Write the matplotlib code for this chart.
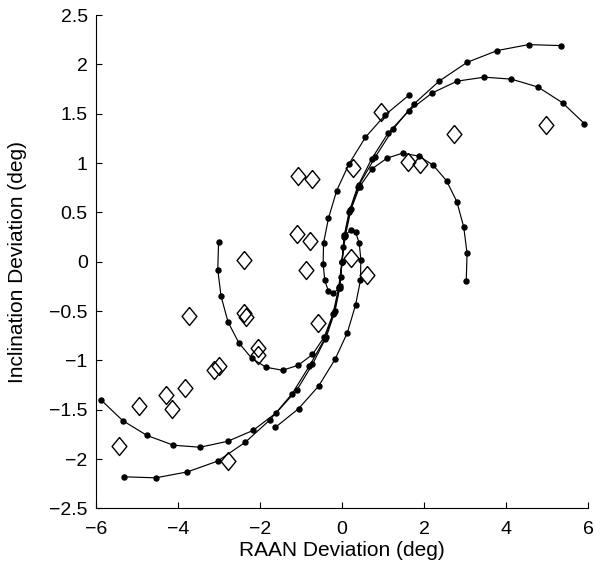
import matplotlib
matplotlib.use("Agg")
import matplotlib.pyplot as plt

plt.rcParams['font.family'] = ['Liberation Sans', 'DejaVu Sans']

# Curve 1 (outermost, ends near (5.3, 2.2))
x1 = [-5.31, -4.54, -3.77, -3.03, -2.36, -1.75, -1.22, -0.80, -0.42, -0.20, -0.06, 0.0,
      0.06, 0.20, 0.42, 0.81, 1.24, 1.76, 2.37, 3.05, 3.79, 4.55, 5.33]
y1 = [-2.18, -2.19, -2.13, -2.02, -1.83, -1.60, -1.34, -1.06, -0.78, -0.52, -0.27, 0.0,
      0.27, 0.52, 0.78, 1.06, 1.34, 1.60, 1.83, 2.02, 2.14, 2.20, 2.19]

# Curve 2 (ends near (5.9, 1.4))
x2 = [-5.88, -5.35, -4.76, -4.11, -3.46, -2.79, -2.17, -1.60, -1.10, -0.72, -0.38, -0.17, -0.05, 0.0,
      0.05, 0.17, 0.38, 0.72, 1.12, 1.63, 2.20, 2.81, 3.47, 4.13, 4.78, 5.38, 5.91]
y2 = [-1.40, -1.61, -1.76, -1.86, -1.88, -1.82, -1.71, -1.53, -1.30, -1.04, -0.76, -0.50, -0.25, 0.0,
      0.25, 0.50, 0.76, 1.04, 1.30, 1.53, 1.71, 1.83, 1.87, 1.85, 1.77, 1.61, 1.40]

# Curve 3 (inner S, ends near (±3, ∓0.2))
x3 = [-3.01, -3.03, -2.95, -2.78, -2.52, -2.20, -1.85, -1.45, -1.07, -0.72, -0.43, -0.22, -0.08, 0.0,
      0.08, 0.22, 0.43, 0.73, 1.10, 1.48, 1.87, 2.22, 2.55, 2.80, 2.97, 3.05, 3.03]
y3 = [0.20, -0.08, -0.35, -0.61, -0.82, -0.98, -1.07, -1.10, -1.05, -0.94, -0.76, -0.53, -0.26, 0.0,
      0.26, 0.53, 0.76, 0.94, 1.05, 1.10, 1.07, 0.98, 0.82, 0.61, 0.35, 0.085, -0.20]

# Curve 4 (short, with small central loop)
x4 = [-1.63, -1.06, -0.57, -0.17, 0.13, 0.33, 0.45, 0.46, 0.42, 0.33, 0.21, 0.08, 0.03, 0.0,
      -0.03, -0.08, -0.21, -0.33, -0.42, -0.46, -0.45, -0.33, -0.13, 0.17, 0.57, 1.06, 1.64]
y4 = [-1.68, -1.49, -1.26, -0.99, -0.72, -0.44, -0.19, 0.02, 0.19, 0.30, 0.32, 0.27, 0.15, 0.0,
      -0.15, -0.27, -0.32, -0.30, -0.19, -0.02, 0.19, 0.44, 0.72, 0.99, 1.26, 1.49, 1.69]

# Diamond observations
dx = [-1.07, -0.73, -1.10, -0.77, -2.40, -0.87, 0.95, 2.72, 4.98, 1.61, 1.91, 0.27, 0.22, 0.61,
      -3.73, -2.38, -2.34, -0.59, -2.04, -2.04, -3.11, -3.01, -3.82, -4.29, -4.15, -4.94, -5.45, -2.79]
dy = [0.87, 0.84, 0.28, 0.21, 0.02, -0.08, 1.52, 1.29, 1.39, 1.01, 0.99, 0.95, 0.04, -0.13,
      -0.55, -0.52, -0.56, -0.62, -0.87, -0.95, -1.10, -1.06, -1.28, -1.35, -1.49, -1.46, -1.87, -2.02]

xticks = [-6, -4, -2, 0, 2, 4, 6]
xticklabels = ['\u22126', '\u22124', '\u22122', '0', '2', '4', '6']
yticks = [-2.5, -2, -1.5, -1, -0.5, 0, 0.5, 1, 1.5, 2, 2.5]
yticklabels = ['\u22122.5', '\u22122', '\u22121.5', '\u22121', '\u22120.5', '0', '0.5', '1', '1.5', '2', '2.5']

fig = plt.figure(figsize=(6.06, 5.71), dpi=100)
ax = fig.add_axes([96 / 606, 1 - 508.4 / 571, 492 / 606, 493.4 / 571])

for xs, ys in [(x1, y1), (x2, y2), (x3, y3), (x4, y4)]:
    ax.plot(xs, ys, '-', color='black', lw=0.85, marker='o', ms=3.6,
            mfc='black', mec='black')

diamond = [(0, 1), (0.82, 0), (0, -1), (-0.82, 0), (0, 1)]
ax.plot(dx, dy, linestyle='none', marker=diamond, ms=13, mfc='none',
        mec='black', mew=1.0)

ax.set_xlim(-6, 6)
ax.set_ylim(-2.5, 2.5)
ax.set_xticks(xticks)
ax.set_xticklabels(xticklabels)
ax.set_yticks(yticks)
ax.set_yticklabels(yticklabels)
ax.spines['top'].set_visible(False)
ax.spines['right'].set_visible(False)
ax.spines['left'].set_linewidth(0.8)
ax.spines['bottom'].set_linewidth(0.8)
ax.tick_params(direction='in', length=4, width=0.8, labelsize=14)
ax.tick_params(axis='x', pad=9)
ax.tick_params(axis='y', pad=6)
ax.set_xlabel('RAAN Deviation (deg)', fontsize=15)
ax.set_ylabel('Inclination Deviation (deg)', fontsize=15)
ax.xaxis.set_label_coords(0.5, -(551 - 508.4) / 493.4)
ax.yaxis.set_label_coords(-(96 - 18) / 492, 0.5)
ax.xaxis.label.set_va('center')
ax.yaxis.label.set_va('center')

fig.savefig('out.png', dpi=100)
